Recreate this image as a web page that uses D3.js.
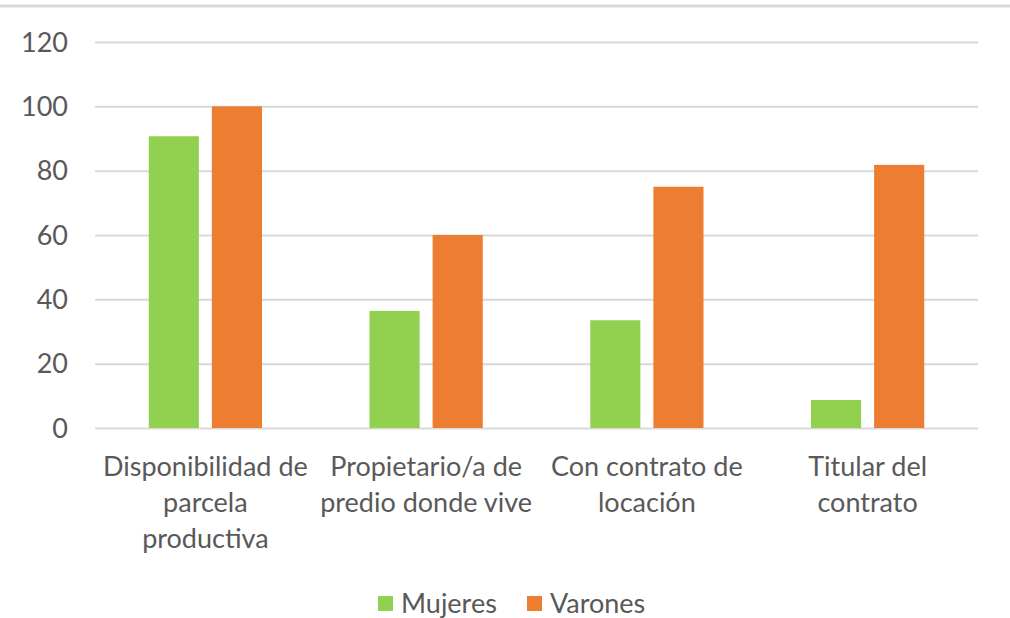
<!DOCTYPE html>
<html><head><meta charset="utf-8">
<script src="https://cdn.jsdelivr.net/npm/d3@7"></script>
<style>body{margin:0;background:#fff}svg{display:block}</style>
</head><body>
<svg id="c" width="1010" height="618"></svg>
<script>
const categories = [["Disponibilidad de","parcela","productiva"],["Propietario/a de","predio donde vive"],["Con contrato de","locación"],["Titular del","contrato"]];
const series = ["Mujeres","Varones"];
const mujeres = [90.7, 36.4, 33.5, 8.7];
const varones = [100, 60, 75, 81.8];
const yTicks = [0,20,40,60,80,100,120];
const colors = ["#92d050","#ed7d31"];

const svg = d3.select("#c");
const font = "Lato, 'Open Sans', sans-serif";
const textColor = "#595959";
const m = {left:95, right:32};
const W = 1010;
const x = d3.scaleBand().domain(d3.range(categories.length)).range([m.left, W-m.right]).paddingInner(0).paddingOuter(0);
const y = d3.scaleLinear().domain([0,120]).range([428, 42]);

svg.append("line").attr("x1",0).attr("x2",W).attr("y1",6).attr("y2",6).attr("stroke","#d9d9d9").attr("stroke-width",3);

const yAxis = d3.axisLeft(y).tickValues(yTicks).tickSize(-(W-m.right-m.left)).tickPadding(27);
const ga = svg.append("g").attr("transform",`translate(${m.left},0)`).call(yAxis);
ga.select(".domain").remove();
ga.selectAll(".tick line").attr("stroke","#d9d9d9").attr("stroke-width",2);
ga.selectAll(".tick text").attr("fill",textColor).style("font-family",font).style("font-size","27px").attr("dy","0.34em");

const bw = x.bandwidth();
const x1 = d3.scaleBand().domain(series).range([bw*0.2435, bw*0.7565]).paddingInner(0.206).paddingOuter(0);
const data = categories.map((c,i)=>({i, vals:[mujeres[i], varones[i]]}));
const g = svg.selectAll("g.cat").data(data).join("g").attr("class","cat").attr("transform",d=>`translate(${x(d.i)},0)`);
g.selectAll("rect").data(d=>d.vals.map((v,k)=>({v,k}))).join("rect")
  .attr("x",d=>x1(series[d.k])).attr("width",x1.bandwidth())
  .attr("y",d=>y(d.v)).attr("height",d=>y(0)-y(d.v)).attr("fill",d=>colors[d.k]);

categories.forEach((lines,i)=>{
  const cx = x(i)+bw/2;
  const t = svg.append("text").attr("text-anchor","middle")
    .attr("fill",textColor).style("font-family",font).style("font-size","27px");
  lines.forEach((l,j)=>t.append("tspan").attr("x",cx).attr("y",476+j*36).text(l));
});

const leg = svg.append("g");
const items = [{x:378},{x:527}];
items.forEach((it,k)=>{
  leg.append("rect").attr("x",it.x).attr("y",596).attr("width",15).attr("height",15).attr("fill",colors[k]);
  leg.append("text").attr("x",it.x+23).attr("y",613).attr("fill",textColor).style("font-family",font).style("font-size","27px").text(series[k]);
});
</script>
</body></html>
